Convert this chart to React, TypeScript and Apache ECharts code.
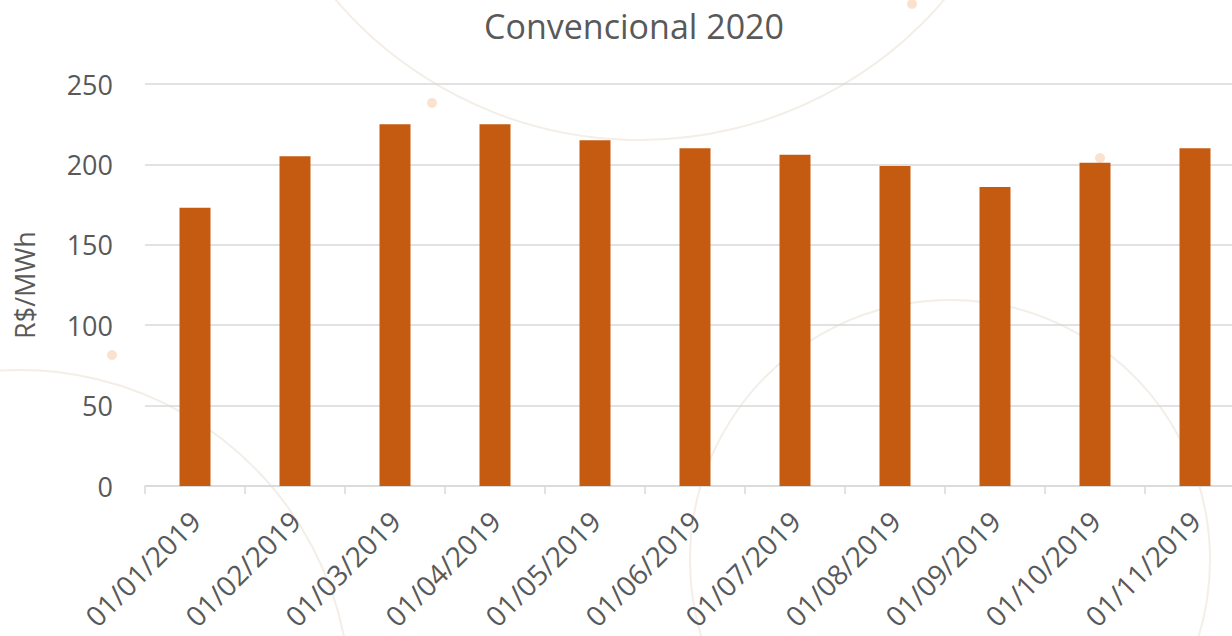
import React, { useEffect, useRef } from "react";
import * as echarts from "echarts";

const categories = [
  "01/01/2019", "01/02/2019", "01/03/2019", "01/04/2019", "01/05/2019", "01/06/2019",
  "01/07/2019", "01/08/2019", "01/09/2019", "01/10/2019", "01/11/2019",
];
const values = [173, 205, 225, 225, 215, 210, 206, 199, 186, 201, 210];
const titleText = "Convencional 2020";
const yAxisName = "R$/MWh";

export default function App() {
  const ref = useRef<HTMLDivElement>(null);
  useEffect(() => {
    const chart = echarts.init(ref.current!, undefined, { renderer: "svg" });
    const font = "'Open Sans', 'Noto Sans', sans-serif";
    const deco = "#f3eee7";
    chart.setOption({
      animation: false,
      backgroundColor: "#ffffff",
      title: {
        text: titleText,
        left: 629,
        top: 4,
        textAlign: "center",
        textStyle: { color: "#595959", fontSize: 34, fontWeight: "normal", fontFamily: font },
      },
      graphic: [
        { type: "circle", shape: { cx: 640, cy: -260, r: 400 }, style: { fill: "none", stroke: deco, lineWidth: 2 }, silent: true, z: -10 },
        { type: "circle", shape: { cx: 950, cy: 560, r: 260 }, style: { fill: "none", stroke: deco, lineWidth: 2 }, silent: true, z: -10 },
        { type: "circle", shape: { cx: 20, cy: 700, r: 330 }, style: { fill: "none", stroke: deco, lineWidth: 2 }, silent: true, z: -10 },
        { type: "circle", shape: { cx: 432, cy: 103, r: 5 }, style: { fill: "#fbe2cf" }, silent: true, z: -10 },
        { type: "circle", shape: { cx: 912, cy: 4, r: 5 }, style: { fill: "#fbe2cf" }, silent: true, z: -10 },
        { type: "circle", shape: { cx: 1100, cy: 158, r: 5 }, style: { fill: "#fbe2cf" }, silent: true, z: -10 },
        { type: "circle", shape: { cx: 112, cy: 355, r: 5 }, style: { fill: "#fbe2cf" }, silent: true, z: -10 },
      ],
      grid: { left: 145, top: 84, width: 1100, height: 402, containLabel: false, outerBoundsMode: "none" },
      xAxis: {
        type: "category",
        data: categories,
        axisLine: { show: true, lineStyle: { color: "#d9d9d9", width: 1.5 } },
        axisTick: { show: true, length: 8, lineStyle: { color: "#d9d9d9", width: 1.5 } },
        axisLabel: {
          rotate: 45,
          margin: 30,
          color: "#595959",
          fontSize: 28,
          fontFamily: font,
          interval: 0,
        },
      },
      yAxis: {
        type: "value",
        min: 0,
        max: 250,
        interval: 50,
        name: yAxisName,
        nameLocation: "middle",
        nameGap: 107,
        nameRotate: 90,
        nameTextStyle: { color: "#595959", fontSize: 27, fontFamily: font },
        axisLine: { show: false },
        axisTick: { show: false },
        splitLine: { lineStyle: { color: "#d9d9d9", width: 1.5 } },
        axisLabel: { color: "#595959", fontSize: 27, fontFamily: font, margin: 32 },
      },
      series: [
        {
          type: "bar",
          data: values,
          barWidth: 31,
          itemStyle: { color: "#C55A11" },
        },
      ],
    });
    return () => chart.dispose();
  }, []);
  return <div ref={ref} style={{ width: 1232, height: 636, position: "absolute", left: 0, top: 0 }} />;
}
